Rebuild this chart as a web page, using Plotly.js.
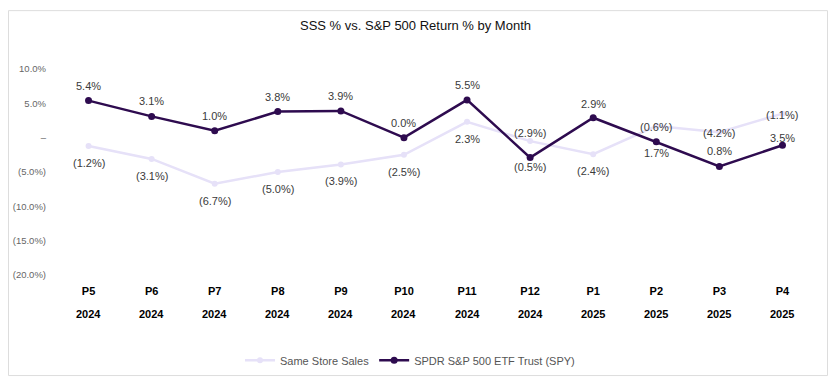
<!DOCTYPE html>
<html>
<head>
<meta charset="utf-8">
<script src="https://cdn.plot.ly/plotly-3.0.1.min.js"></script>
<style>
  html, body { margin: 0; padding: 0; background: #ffffff; }
  #chart { width: 836px; height: 387px; }
</style>
</head>
<body>
<div id="chart"></div>
<script>
// ---- data ----
const periods = ['P5', 'P6', 'P7', 'P8', 'P9', 'P10', 'P11', 'P12', 'P1', 'P2', 'P3', 'P4'];
const years = ['2024', '2024', '2024', '2024', '2024', '2024', '2024', '2024', '2025', '2025', '2025', '2025'];
const sameStoreSales = [-1.2, -3.1, -6.7, -5.0, -3.9, -2.5, 2.3, -0.5, -2.4, 1.7, 0.8, 3.5];
const spyReturn = [5.4, 3.1, 1.0, 3.8, 3.9, 0.0, 5.5, -2.9, 2.9, -0.6, -4.2, -1.1];
const yTickVals = [-20, -15, -10, -5, 0, 5, 10];

// ---- label placement (pixel offsets from each point) ----
const spyLabelUp = [15, 15, 15, 15, 15, 15, 15, 25, 14, 15, 34, 30];
const sssLabelDown = [17, 17, 17, 17, 17, 17, 17, 26, 17, 27, 19, 24];

const FONT = 'Liberation Sans, Arial, sans-serif';
const DARK = '#2e0b4f';
const LIGHT = '#e6e1f8';

function fmtPct(v) {
  if (v === 0) return '0.0%';
  return v < 0 ? '(' + Math.abs(v).toFixed(1) + '%)' : v.toFixed(1) + '%';
}
function fmtTick(v) {
  return v === 0 ? '–' : fmtPct(v);
}

const traces = [
  {
    name: 'Same Store Sales',
    x: periods,
    y: sameStoreSales,
    type: 'scatter',
    mode: 'lines+markers',
    line: { color: LIGHT, width: 2.5 },
    marker: { color: LIGHT, size: 6 },
    hoverinfo: 'skip'
  },
  {
    name: 'SPDR S&P 500 ETF Trust (SPY)',
    x: periods,
    y: spyReturn,
    type: 'scatter',
    mode: 'lines+markers',
    line: { color: DARK, width: 2.5 },
    marker: { color: DARK, size: 7 },
    hoverinfo: 'skip'
  }
];

const annotations = [];
periods.forEach((p, i) => {
  annotations.push({
    xref: 'x', yref: 'y', x: p, y: spyReturn[i], yshift: spyLabelUp[i],
    text: fmtPct(spyReturn[i]), showarrow: false, yanchor: 'middle',
    font: { family: FONT, size: 11, color: '#3a3a3a' }
  });
  annotations.push({
    xref: 'x', yref: 'y', x: p, y: sameStoreSales[i], yshift: -sssLabelDown[i],
    text: fmtPct(sameStoreSales[i]), showarrow: false, yanchor: 'middle',
    font: { family: FONT, size: 11, color: '#3a3a3a' }
  });
  annotations.push({
    xref: 'x', yref: 'paper', x: p, y: 0, yshift: -39,
    text: years[i], showarrow: false, yanchor: 'middle',
    font: { family: FONT, size: 11, color: '#000000', weight: 'bold' }
  });
});

const ML = 57, MR = 22, MT = 69, MB = 108, W = 836, H = 387;
const PW = W - ML - MR, PH = H - MT - MB;
function px2paperX(px) { return (px - ML) / PW; }
function px2paperY(py) { return (H - MB - py) / PH; }

const layout = {
  width: W,
  height: H,
  margin: { l: ML, r: MR, t: MT, b: MB, pad: 0 },
  paper_bgcolor: '#ffffff',
  plot_bgcolor: '#ffffff',
  font: { family: FONT, size: 11, color: '#444444' },
  title: {
    text: 'SSS % vs. S&P 500 Return % by Month',
    font: { family: FONT, size: 13, color: '#111111' },
    xref: 'container', x: 0.497, xanchor: 'center',
    yref: 'container', y: 1 - 25 / H, yanchor: 'middle'
  },
  xaxis: {
    type: 'category',
    range: [-0.5, periods.length - 0.5],
    showgrid: false, zeroline: false, showline: false, ticks: '',
    tickfont: { family: FONT, size: 11, color: '#000000', weight: 'bold' },
    ticklabelstandoff: 8,
    fixedrange: true
  },
  yaxis: {
    range: [-20, 10],
    tickvals: yTickVals,
    ticktext: yTickVals.map(fmtTick),
    showgrid: false, zeroline: false, showline: false, ticks: '',
    tickfont: { family: FONT, size: 9.5, color: '#666666' },
    ticklabelstandoff: 10,
    fixedrange: true
  },
  showlegend: true,
  legend: {
    orientation: 'h',
    x: px2paperX(410), xanchor: 'center',
    y: px2paperY(366), yanchor: 'middle',
    font: { family: FONT, size: 11, color: '#555555' },
    bgcolor: 'rgba(0,0,0,0)'
  },
  annotations: annotations,
  shapes: [{
    type: 'rect', xref: 'paper', yref: 'paper',
    x0: px2paperX(8.5), x1: px2paperX(827.5),
    y0: px2paperY(381.5), y1: px2paperY(9.5),
    line: { color: '#dddddd', width: 1 },
    fillcolor: 'rgba(0,0,0,0)',
    layer: 'below'
  }]
};

Plotly.newPlot('chart', traces, layout, { displayModeBar: false, staticPlot: true });
</script>
</body>
</html>
